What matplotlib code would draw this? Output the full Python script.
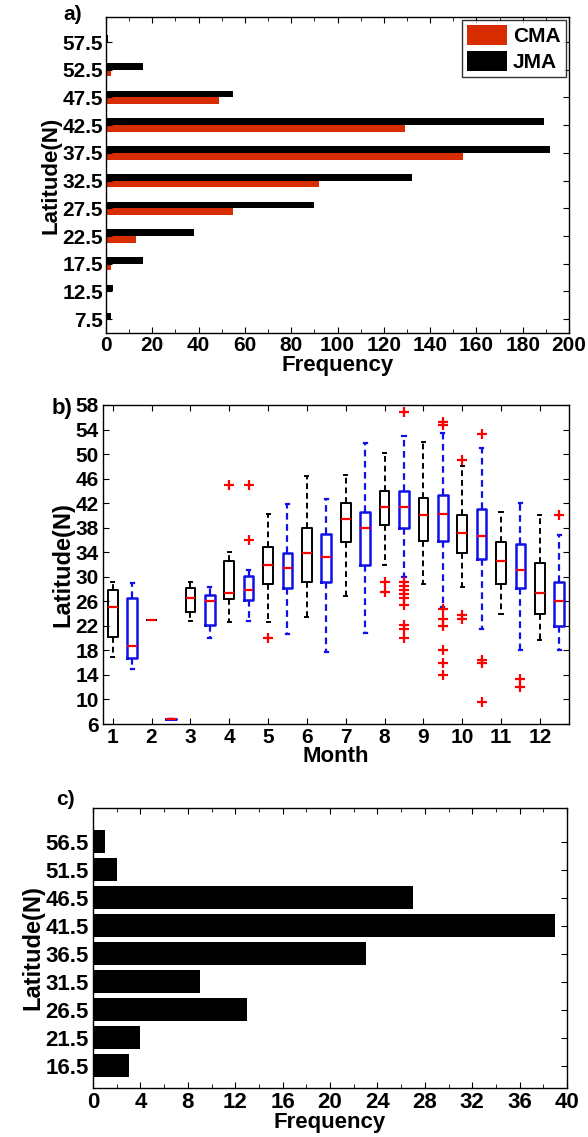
import matplotlib
matplotlib.use('Agg')
import matplotlib.pyplot as plt
from matplotlib.ticker import MultipleLocator

plt.rcParams.update({
    'font.family': ['Liberation Sans', 'DejaVu Sans'],
    'font.weight': 'bold',
    'axes.labelweight': 'bold',
    'axes.linewidth': 1.0,
    'xtick.direction': 'in',
    'ytick.direction': 'in',
    'xtick.top': True,
    'ytick.right': True,
})

RED = '#d72d00'
BLUE = '#1010e8'

# ---- panel a: latitude frequency, CMA vs JMA ----
lat_a = [7.5, 12.5, 17.5, 22.5, 27.5, 32.5, 37.5, 42.5, 47.5, 52.5, 57.5]
cma_freq = [0, 0, 2, 13, 55, 92, 154, 129, 49, 2, 0]
jma_freq = [2, 3, 16, 38, 90, 132, 192, 189, 55, 16, 1]

# ---- panel b: monthly box plots (black group at month, blue group at month+0.5) ----
months = list(range(1, 13))
lat_ticks_b = list(range(6, 59, 4))
g1_whishi = [29.1, 23.0, 29.1, 34.0, 40.2, 46.4, 46.6, 50.2, 51.9, 48.0, 40.5, 40.1]
g1_q3 = [27.9, 23.0, 28.1, 32.5, 34.9, 38.0, 42.0, 44.0, 42.8, 40.0, 35.6, 32.2]
g1_med = [25.0, 23.0, 26.5, 27.4, 31.9, 33.8, 39.5, 41.3, 40.1, 37.1, 32.6, 27.3]
g1_q1 = [20.2, 23.0, 24.3, 26.3, 28.9, 29.1, 35.6, 38.4, 35.9, 33.9, 28.8, 23.9]
g1_whislo = [16.9, 23.0, 22.8, 22.6, 22.6, 23.4, 26.8, 32.0, 28.8, 28.3, 23.9, 19.7]
g1_fliers = [[], [], [], [44.9], [20.0], [], [], [29.2, 27.6], [], [49.1, 23.8, 23.2], [], []]

g2_whishi = [29.0, 6.8, 28.4, 31.1, 41.9, 42.7, 51.8, 53.0, 53.5, 51.0, 42.0, 36.8]
g2_q3 = [26.5, 6.8, 27.1, 30.1, 33.9, 37.0, 40.6, 44.0, 43.4, 41.0, 35.3, 29.1]
g2_med = [18.7, 6.8, 26.0, 27.8, 31.5, 33.2, 37.9, 41.3, 40.2, 36.6, 31.1, 26.0]
g2_q1 = [16.8, 6.8, 22.1, 26.2, 28.1, 29.1, 31.9, 37.9, 35.9, 32.9, 28.1, 22.0]
g2_whislo = [15.0, 6.8, 20.0, 22.8, 20.7, 17.7, 20.9, 30.0, 25.0, 21.5, 18.0, 18.0]
g2_fliers = [[], [], [], [44.9, 36.0], [], [], [],
             [56.9, 29.2, 28.5, 27.8, 27.2, 26.5, 25.4, 22.1, 21.5, 20.1],
             [55.2, 54.7, 24.8, 23.1, 22.0, 18.1, 15.9, 14.0],
             [53.3, 16.4, 15.9, 9.6], [13.4, 12.0], [40.1]]

# ---- panel c: latitude frequency ----
lat_c = [16.5, 21.5, 26.5, 31.5, 36.5, 41.5, 46.5, 51.5, 56.5]
freq_c = [3, 4, 13, 9, 23, 39, 27, 2, 1]

fig = plt.figure(figsize=(5.88, 11.37), dpi=100)

# panel a
ax1 = fig.add_axes([0.1803, 0.7071, 0.7874, 0.2779])
ax1.barh(lat_a, jma_freq, height=1.2, align='edge', color='black', label='JMA')
ax1.barh(lat_a, cma_freq, height=-1.2, align='edge', color=RED, label='CMA')
ax1.set_xlim(0, 200)
ax1.set_ylim(5, 62)
ax1.set_yticks(lat_a)
ax1.set_yticklabels([f'{v:g}' for v in lat_a])
ax1.xaxis.set_major_locator(MultipleLocator(20))
ax1.xaxis.set_minor_locator(MultipleLocator(10))
ax1.tick_params(labelsize=15, length=4, pad=2)
ax1.tick_params(which='minor', length=3, top=True)
ax1.set_xlabel('Frequency', fontsize=16, labelpad=0)
ax1.set_ylabel('Latitude(N)', fontsize=16, labelpad=1)
h, l = ax1.get_legend_handles_labels()
ax1.legend(h[::-1], l[::-1], loc='upper right', fontsize=15, frameon=True,
           fancybox=False, edgecolor='black', handlelength=1.9, handleheight=1.1,
           borderaxespad=0.15, borderpad=0.25, labelspacing=0.2, handletextpad=0.3)
ax1.legend_.get_frame().set_linewidth(1.0)
fig.text(0.108, 0.987, 'a)', fontsize=15, fontweight='bold', va='center')

# panel b
ax2 = fig.add_axes([0.1752, 0.3632, 0.7925, 0.2806])


def make_stats(whislo, q1, med, q3, whishi, fliers):
    return [dict(whislo=a, q1=b, med=c, q3=d, whishi=e, fliers=f)
            for a, b, c, d, e, f in zip(whislo, q1, med, q3, whishi, fliers)]


common = dict(widths=0.25, capwidths=0.08, showfliers=True,
              medianprops=dict(color='red', linewidth=1.6),
              flierprops=dict(marker='+', markeredgecolor='red', markersize=7,
                              markeredgewidth=1.6, linestyle='none'))
ax2.bxp(make_stats(g1_whislo, g1_q1, g1_med, g1_q3, g1_whishi, g1_fliers),
        positions=months,
        boxprops=dict(color='black', linewidth=1.4),
        whiskerprops=dict(color='black', linewidth=1.4, linestyle=(0, (3, 2))),
        capprops=dict(color='black', linewidth=1.4), **common)
ax2.bxp(make_stats(g2_whislo, g2_q1, g2_med, g2_q3, g2_whishi, g2_fliers),
        positions=[m + 0.5 for m in months],
        boxprops=dict(color=BLUE, linewidth=1.8),
        whiskerprops=dict(color=BLUE, linewidth=1.6, linestyle=(0, (3, 2))),
        capprops=dict(color=BLUE, linewidth=1.6), **common)
ax2.set_xlim(0.75, 12.75)
ax2.set_ylim(6, 58)
ax2.set_xticks(months)
ax2.set_xticklabels([str(m) for m in months])
ax2.set_yticks(lat_ticks_b)
ax2.tick_params(labelsize=15, length=4, pad=3)
ax2.set_xlabel('Month', fontsize=16, labelpad=-1)
ax2.set_ylabel('Latitude(N)', fontsize=17, labelpad=1)
fig.text(0.088, 0.641, 'b)', fontsize=16, fontweight='bold', va='center')

# panel c
ax3 = fig.add_axes([0.1582, 0.0431, 0.8061, 0.2463])
ax3.barh(lat_c, freq_c, height=4, color='black')
ax3.set_xlim(0, 40)
ax3.set_ylim(12.5, 62.5)
ax3.set_yticks(lat_c)
ax3.set_yticklabels([f'{v:g}' for v in lat_c])
ax3.xaxis.set_major_locator(MultipleLocator(4))
ax3.xaxis.set_minor_locator(MultipleLocator(2))
ax3.tick_params(labelsize=16, length=4, pad=3)
ax3.tick_params(which='minor', length=3, top=True)
ax3.set_xlabel('Frequency', fontsize=16, labelpad=-1)
ax3.set_ylabel('Latitude(N)', fontsize=17, labelpad=1)
fig.text(0.095, 0.297, 'c)', fontsize=15, fontweight='bold', va='center')

fig.savefig('out.png', dpi=100)
